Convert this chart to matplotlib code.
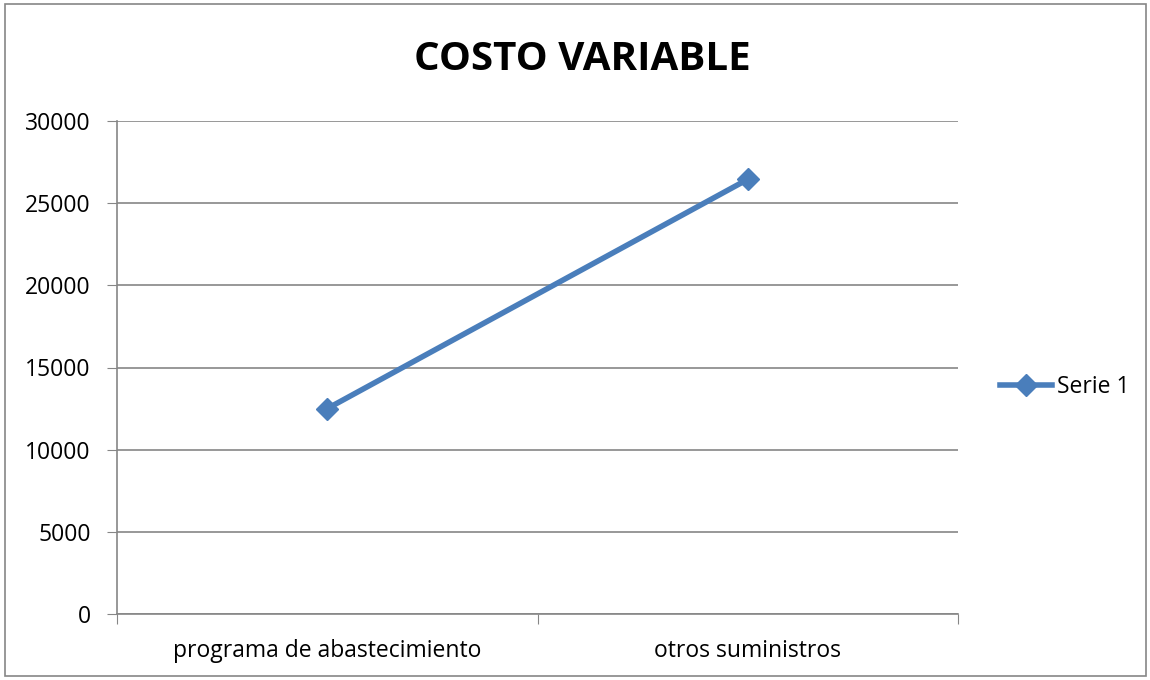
import matplotlib.pyplot as plt
from matplotlib.patches import Rectangle
from matplotlib.lines import Line2D

plt.rcParams['font.family'] = ['Open Sans', 'DejaVu Sans']

categorias = ['programa de abastecimiento', 'otros suministros']
valores = [12500, 26450]
yticks = [0, 5000, 10000, 15000, 20000, 25000, 30000]

azul = '#4a7ebb'
gris = '#868686'

fig = plt.figure(figsize=(11.5, 6.8), dpi=100)
ax = fig.add_axes([117/1150, 66/680, 841/1150, 493/680])

x = [0.5, 1.5]
ax.plot(x, valores, color=azul, lw=4, marker='D', ms=11, mec=azul, mfc=azul,
        solid_capstyle='round')

ax.set_xlim(0, 2)
ax.set_ylim(0, 30000)
ax.set_yticks(yticks)
ax.set_yticklabels([str(v) for v in yticks], fontsize=16.5)
ax.set_xticks([0, 1, 2])
ax.set_xticklabels([])
ax.set_xticks(x, minor=True)
ax.set_xticklabels(categorias, minor=True, fontsize=16.5)
ax.tick_params(axis='x', which='minor', length=0, pad=18)
ax.tick_params(axis='x', which='major', length=7, color=gris, direction='out')
ax.tick_params(axis='y', length=7, color=gris, direction='out', pad=12)
ax.grid(axis='y', color=gris, lw=1.2)
ax.set_axisbelow(True)
for s in ['top', 'right']:
    ax.spines[s].set_visible(False)
for s in ['left', 'bottom']:
    ax.spines[s].set_color(gris)
    ax.spines[s].set_linewidth(1.2)

fig.text(582/1150, 1 - 60/680, 'COSTO VARIABLE', ha='center', va='center',
         fontsize=29, fontweight='bold')

h = Line2D([], [], color=azul, lw=4, marker='D', ms=11, mfc=azul, mec=azul)
fig.legend([h], ['Serie 1'], loc='center left', bbox_to_anchor=(979/1150, 1 - 387/680),
           frameon=False, fontsize=16.5, handlelength=2.3, handletextpad=0.2)

fig.patches.append(Rectangle((5/1150, 4/680), 1141/1150, 672/680, transform=fig.transFigure,
                             fill=False, ec=gris, lw=1.2))

fig.savefig('out.png', dpi=100)
